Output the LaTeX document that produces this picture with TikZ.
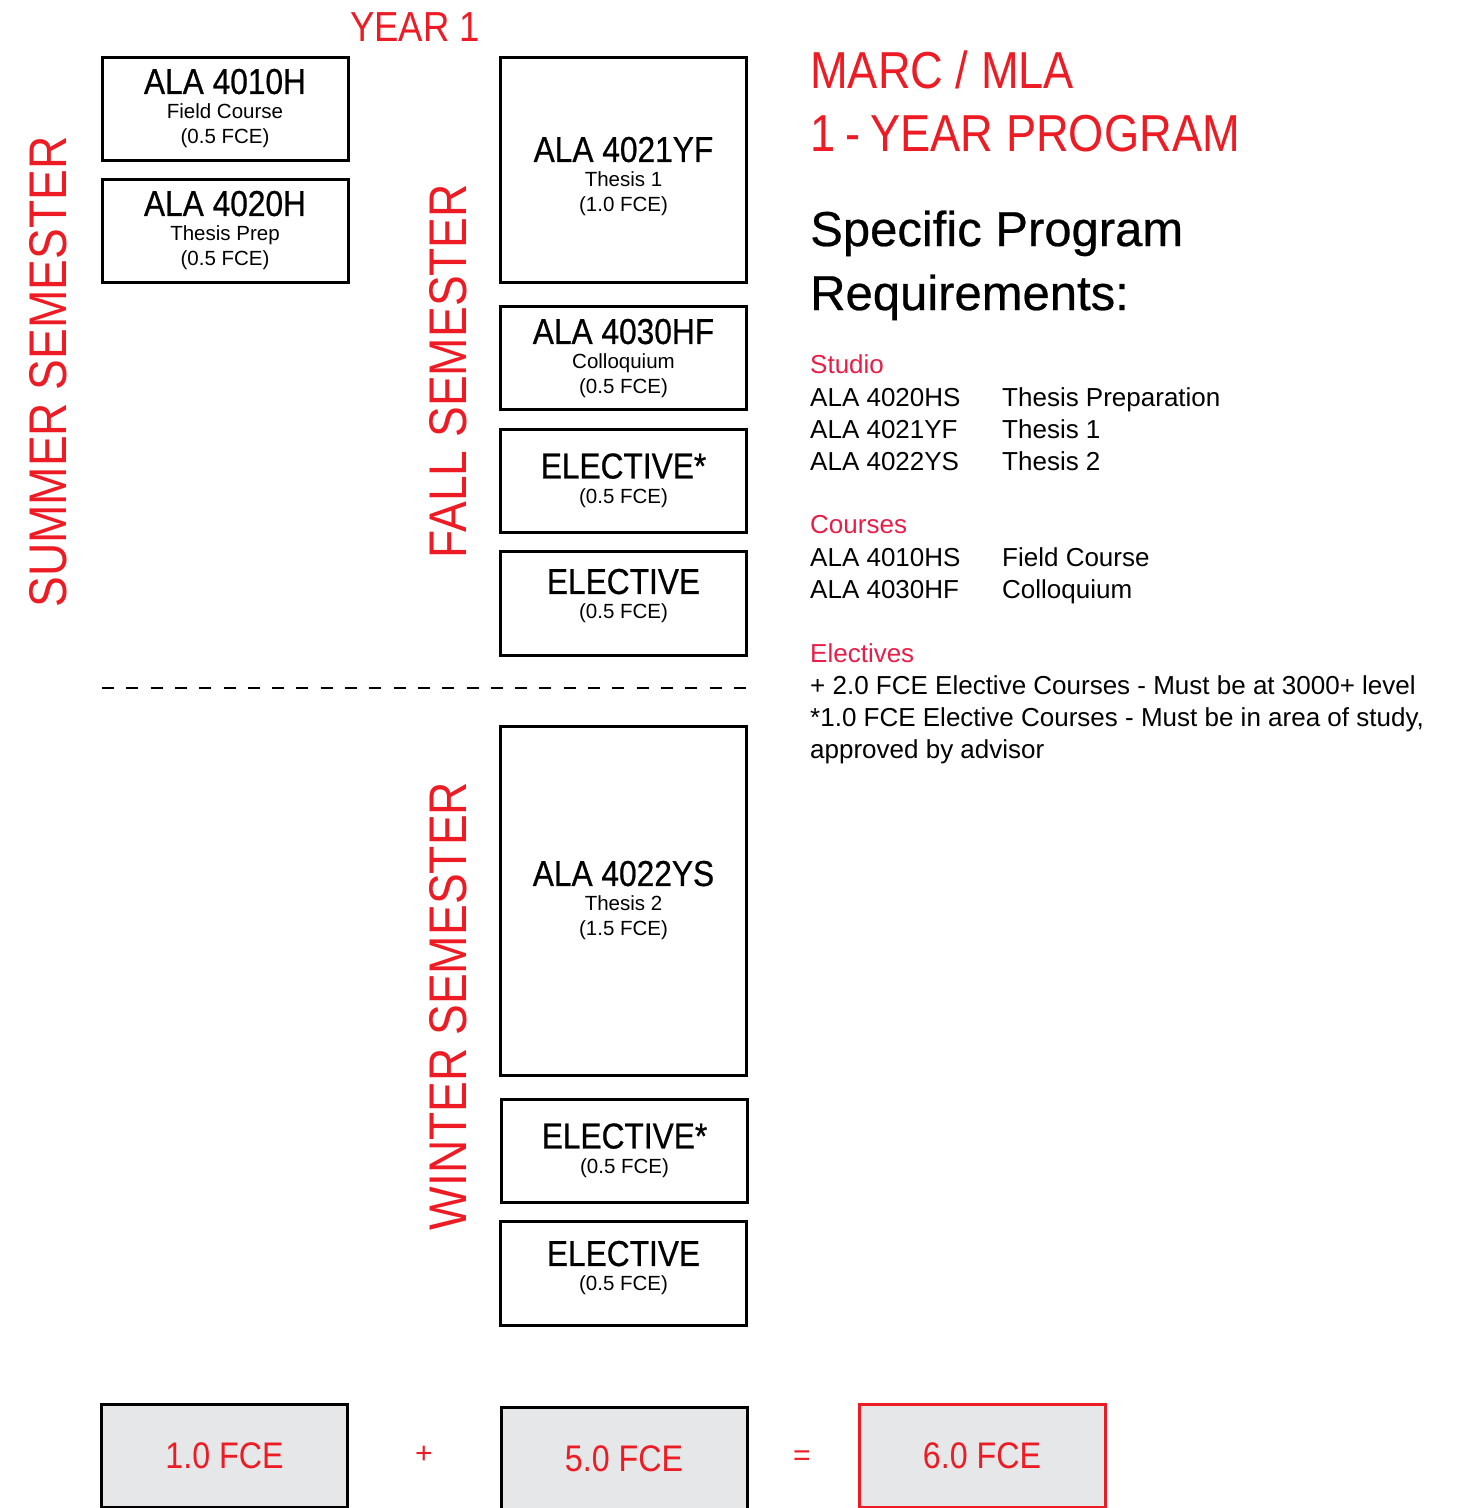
\documentclass[tikz,border=0pt]{standalone}
\usepackage{fontspec}
\setmainfont{Liberation Sans}
\newfontfamily\narrowsans[FakeStretch=0.87]{Liberation Sans}
\newfontfamily\titlesans[FakeStretch=0.88, FakeBold=0.6]{Liberation Sans}
\newfontfamily\headsans[FakeBold=0.5]{Liberation Sans}
\usetikzlibrary{positioning}
\definecolor{yearred}{RGB}{237,28,36}
\definecolor{headpink}{RGB}{233,30,72}
\definecolor{totalgray}{RGB}{230,231,232}
\newcommand\coursetitle{\titlesans\fontsize{36}{25}\selectfont}
\newcommand\coursesub{\fontsize{20.5}{25}\selectfont}
\newcommand\reqtext{\fontsize{26}{32}\selectfont}

\begin{document}
\begin{tikzpicture}[x=1pt, y=-1pt,
    course/.style={draw=black, line width=3pt, minimum width=246pt, align=center,
        inner sep=0pt, font=\coursesub},
    total/.style={draw=black, line width=3pt, fill=totalgray, minimum width=246pt,
        minimum height=103pt, text=yearred, font=\narrowsans\fontsize{37}{40}\selectfont},
    semester/.style={rotate=90, text=yearred, inner sep=0pt,
        font=\narrowsans\fontsize{53}{55}\selectfont},
    reqline/.style={anchor=base west, inner sep=0pt, font=\reqtext}]
    \useasboundingbox (0,0) rectangle (1460,1508);

    % Course boxes
    \foreach \nm/\cx/\cy/\h/\dy/\title/\body in {
        c4010/225/108.5/103/0/ALA 4010H/{Field Course\\(0.5 FCE)},
        c4020/225/230.5/103/0/ALA 4020H/{Thesis Prep\\(0.5 FCE)},
        c4021/623.5/169.5/225/7/ALA 4021YF/{Thesis 1\\(1.0 FCE)},
        c4030/623.5/357.5/103/1/ALA 4030HF/{Colloquium\\(0.5 FCE)},
        elecfa/623.5/480.5/103/0/ELECTIVE*/{(0.5 FCE)},
        elecfb/623.5/603/104/-7/ELECTIVE/{(0.5 FCE)},
        c4022/623.5/900.5/349/0/ALA 4022YS/{Thesis 2\\(1.5 FCE)},
        elecwa/624.5/1150.5/103/0/ELECTIVE*/{(0.5 FCE)},
        elecwb/623.5/1273/104/-5/ELECTIVE/{(0.5 FCE)}} {
    \node[course, minimum height=\h pt] (\nm) at (\cx,\cy) {};
    \node[align=center, inner sep=0pt, font=\coursesub] (\nm txt) at ([yshift=-\dy pt]\nm.center) {{\coursetitle \title}\\\body};
    }

    % Semester labels
    \node[semester] (summer) at (48,372) {SUMMER SEMESTER};
    \node[semester] (fall) at (448,371) {FALL SEMESTER};
    \node[semester] (winter) at (448,1006) {WINTER SEMESTER};
    \node[text=yearred, font=\narrowsans\fontsize{42}{45}\selectfont] (year) at (415,27) {YEAR 1};

    % Fall / winter divider
    \coordinate (divl) at (102,688);
    \coordinate (divr) at (746,688);
    \draw[line width=2pt, dash pattern=on 12pt off 12.3pt] (divl) -- (divr);

    % Totals
    \node[total] (tsummer) at (224.5,1455.5) {1.0 FCE};
    \node[total] (tyear) at (624,1458.5) {5.0 FCE};
    \node[total, draw=yearred] (tall) at (982,1455.5) {6.0 FCE};
    \node[text=yearred, font=\fontsize{30}{30}\selectfont] (plus) at (424,1455) {+};
    \node[text=yearred, font=\fontsize{30}{30}\selectfont] (equals) at (802,1458) {=};

    % Program heading
    \node[reqline, text=yearred, font=\narrowsans\fontsize{52}{60}\selectfont] (marc) at (810,88) {MARC / MLA};
    \node[reqline, text=yearred, font=\narrowsans\fontsize{52}{60}\selectfont] (prog) at (810,151) {1\hspace{10pt}-\hspace{10pt}YEAR PROGRAM};
    \node[reqline, font=\headsans\fontsize{49}{60}\selectfont] (spec) at (810,246) {Specific Program};
    \node[reqline, font=\headsans\fontsize{49}{60}\selectfont] (reqs) at (810,310) {Requirements:};

    % Requirement lists
    \node[reqline, text=headpink] (studio) at (810,373) {Studio};
    \foreach \code/\desc/\y in {4020HS/Thesis Preparation/406, 4021YF/Thesis 1/438, 4022YS/Thesis 2/470,
        4010HS/Field Course/566, 4030HF/Colloquium/598} {
    \node[reqline] (code\code) at (810,\y) {ALA \code};
    \node[reqline] (desc\code) at (1002,\y) {\desc};
    }
    \node[reqline, text=headpink] (courses) at (810,533) {Courses};
    \node[reqline, text=headpink] (electives) at (810,662) {Electives};
    \node[reqline] (elecplus) at (810,694) {+ 2.0 FCE Elective Courses - Must be at 3000+ level};
    \node[reqline] (elecstar) at (810,726) {*1.0 FCE Elective Courses - Must be in area of study,};
    \node[reqline] (elecadv) at (810,758) {approved by advisor};
\end{tikzpicture}
\end{document}
